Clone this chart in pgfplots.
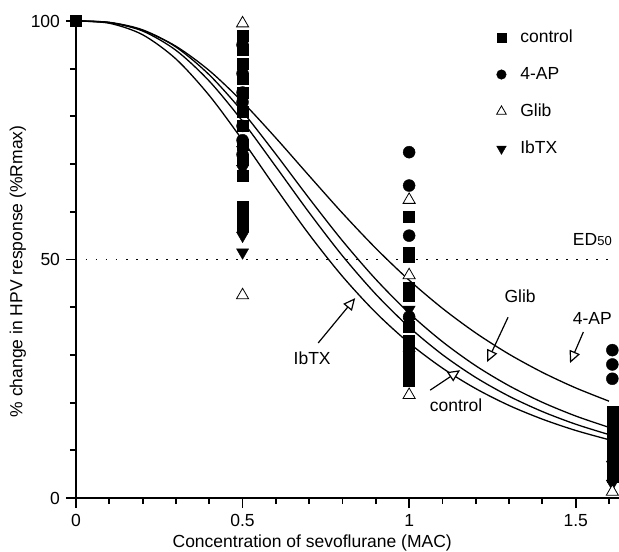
\documentclass[border=0pt]{standalone}
\usepackage{fontspec}
\setmainfont{Liberation Sans}
\usepackage{pgfplots}
\pgfplotsset{compat=1.18}
\usetikzlibrary{arrows.meta}
\begin{document}
\fontsize{17.5}{21}\selectfont
\begin{tikzpicture}
\begin{axis}[
  scale only axis, width=543pt, height=477pt,
  xmin=0, xmax=1.63, ymin=0, ymax=100,
  axis x line*=bottom, axis y line*=left,
  axis line style={line width=1.6pt},
  xtick={0,0.5,1,1.5}, xticklabels={0,0.5,1,1.5},
  minor xtick={0.1,0.2,0.3,0.4,0.6,0.7,0.8,0.9,1.1,1.2,1.3,1.4,1.6},
  ytick={0,50,100}, yticklabels={0,50,100},
  minor ytick={10,20,30,40,60,70,80,90},
  tick align=outside,
  major tick length=10pt, minor tick length=6pt,
  tick style={line width=1.8pt, black},
  tick label style={font=\fontsize{17.5}{21}\selectfont},
  xlabel={Concentration of sevoflurane (MAC)},
  ylabel={\% change in HPV response (\%Rmax)},
  label style={font=\fontsize{17.5}{21}\selectfont},
  xlabel style={at={(axis description cs:0.435,-0.094)}, anchor=center},
  ylabel style={at={(axis description cs:-0.107,0.475)}, anchor=center},
  legend style={at={(axis cs:1.262,98.6)}, anchor=north west, draw=none, fill=none,
    row sep=18pt, font=\fontsize{17.5}{21}\selectfont, inner sep=0pt,
    /tikz/every odd column/.append style={column sep=12pt}},
  legend cell align=left,
  legend image post style={scale=0.8},
]
\coordinate (O) at (axis cs:0,0);
% ED50 dotted line
\addplot[forget plot, line width=1pt, dash pattern=on 1.5pt off 8.5pt] coordinates {(0,50) (1.62,50)};
% fitted curves
\addplot[forget plot, line width=1.3pt, smooth] coordinates {
(0,100) (0.1,99.66) (0.2,98.04) (0.3,94.71) (0.4,89.61) (0.5,83.02) (0.6,75.47) (0.7,67.54) (0.8,59.71)
(0.9,52.35) (1.0,45.67) (1.1,39.76) (1.2,34.60) (1.3,30.15) (1.4,26.34) (1.5,23.08) (1.6,20.30)};
\addplot[forget plot, line width=1.3pt, smooth] coordinates {
(0,100) (0.1,99.72) (0.2,98.15) (0.3,94.55) (0.4,88.72) (0.5,80.98) (0.6,72.07) (0.7,62.81) (0.8,53.91)
(0.9,45.84) (1.0,38.77) (1.1,32.77) (1.2,27.72) (1.3,23.53) (1.4,20.06) (1.5,17.19) (1.6,14.81)};
\addplot[forget plot, line width=1.3pt, smooth] coordinates {
(0,100) (0.1,99.68) (0.2,97.90) (0.3,93.86) (0.4,87.40) (0.5,78.97) (0.6,69.46) (0.7,59.82) (0.8,50.76)
(0.9,42.72) (1.0,35.83) (1.1,30.05) (1.2,25.27) (1.3,21.34) (1.4,18.12) (1.5,15.47) (1.6,13.29)};
\addplot[forget plot, line width=1.3pt, smooth] coordinates {
(0,100) (0.1,99.53) (0.2,97.12) (0.3,92.04) (0.4,84.39) (0.5,75.00) (0.6,64.96) (0.7,55.24) (0.8,46.45)
(0.9,38.86) (1.0,32.49) (1.1,27.23) (1.2,22.93) (1.3,19.40) (1.4,16.53) (1.5,14.16) (1.6,12.22)};
% data
\addplot[only marks, mark=square*, mark size=5.5pt, black] coordinates {
(0,100)
(0.5,97) (0.5,94) (0.5,91) (0.5,88) (0.5,85) (0.5,81) (0.5,78) (0.5,74) (0.5,71) (0.5,67.5) (0.5,61) (0.5,59) (0.5,57)
(1,59) (1,51.5) (1,50.5) (1,44) (1,42.5) (1,36) (1,33) (1,30.5) (1,28) (1,26) (1,24.5)
(1.61,18) (1.61,16) (1.61,14) (1.61,12) (1.61,10) (1.61,8) (1.61,6) (1.61,4.5)};
\addlegendentry{control}
\addplot[only marks, mark=*, mark size=6pt, black] coordinates {
(0.5,95) (0.5,89) (0.5,85) (0.5,83) (0.5,78) (0.5,75) (0.5,72)
(1,72.5) (1,65.5) (1,55) (1,38)
(1.61,31) (1.61,28) (1.61,25)};
\addlegendentry{4-AP}
\addplot[forget plot, only marks, mark=triangle*, mark size=7pt, black, mark options={rotate=180}] coordinates {
(0.5,73) (0.5,69) (0.5,55) (0.5,51.5)
(1,39.5) (1,37) (1,30)
(1.61,7) (1.61,3)};
\addplot[only marks, mark=triangle*, mark size=7pt, black, mark options={fill=white, line width=0.8pt}] coordinates {
(0.5,99.5) (0.5,42.5)
(1,62.5) (1,46.7) (1,21.6)
(1.61,1.3)};
\addlegendentry{Glib}
\addlegendimage{only marks, mark=triangle*, mark size=7pt, black, mark options={rotate=180}}
\addlegendentry{IbTX}
% annotations
\node at (axis cs:1.55,54.2) {ED\raisebox{-0.5pt}{\fontsize{13}{13}\selectfont 50}};
\node at (axis cs:0.709,29.4) {IbTX};
\node at (axis cs:1.333,42.3) {Glib};
\node at (axis cs:1.55,37.6) {4-AP};
\node at (axis cs:1.141,19.4) {control};
\draw[line width=1.2pt, -{Triangle[open, length=12pt, width=11pt, fill=white]}] (axis cs:0.727,32.5) -- (axis cs:0.838,41.9);
\draw[line width=1.2pt, -{Triangle[open, length=12pt, width=11pt, fill=white]}] (axis cs:1.297,37.9) -- (axis cs:1.234,28.5);
\draw[line width=1.2pt, -{Triangle[open, length=12pt, width=11pt, fill=white]}] (axis cs:1.523,34.8) -- (axis cs:1.483,28.3);
\draw[line width=1.2pt, -{Triangle[open, length=12pt, width=11pt, fill=white]}] (axis cs:1.063,22.6) -- (axis cs:1.153,26.8);
\end{axis}
% tick marks along the axis lines
\foreach \t in {0,0.5,1,1.5}
  \draw[line width=1.8pt] ([xshift=\t*333.13pt]O) -- ++(0,-10pt);
\foreach \t in {0.1,0.2,0.3,0.4,0.6,0.7,0.8,0.9,1.1,1.2,1.3,1.4,1.6}
  \draw[line width=1.8pt] ([xshift=\t*333.13pt]O) -- ++(0,-6pt);
\foreach \t in {0,50,100}
  \draw[line width=1.8pt] ([yshift=\t*4.77pt]O) -- ++(-10pt,0);
\foreach \t in {10,20,30,40,60,70,80,90}
  \draw[line width=1.8pt] ([yshift=\t*4.77pt]O) -- ++(-6pt,0);
\pgfresetboundingbox
\path[use as bounding box] ([xshift=-76pt,yshift=-54pt]O) rectangle ([xshift=543pt,yshift=498pt]O);
\end{tikzpicture}
\end{document}
